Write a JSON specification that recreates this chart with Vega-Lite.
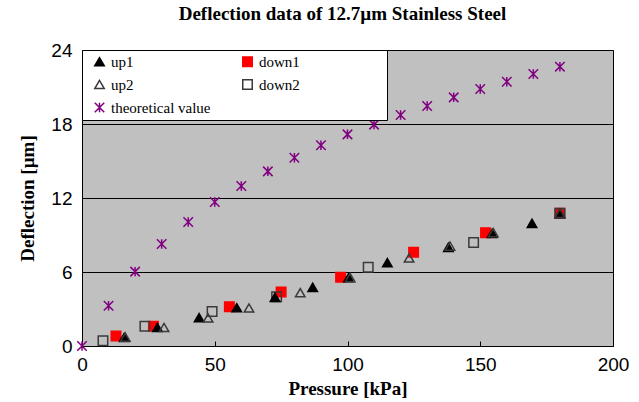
{
  "$schema": "https://vega.github.io/schema/vega-lite/v6.json",
  "autosize": {"type": "none"},
  "width": 531,
  "height": 296,
  "padding": {"left": 82, "top": 50, "right": 26, "bottom": 56},
  "title": {
    "text": "Deflection data of 12.7µm Stainless Steel",
    "font": "Liberation Serif",
    "fontSize": 19,
    "fontWeight": "bold",
    "color": "black",
    "anchor": "middle",
    "offset": 17,
    "dx": -5
  },
  "data": {
    "values": [
      {"series": "down1", "pressure": 12.8, "deflection": 0.81},
      {"series": "down1", "pressure": 26.9, "deflection": 1.6},
      {"series": "down1", "pressure": 55.5, "deflection": 3.19},
      {"series": "down1", "pressure": 75.0, "deflection": 4.38},
      {"series": "down1", "pressure": 97.4, "deflection": 5.57},
      {"series": "down1", "pressure": 124.9, "deflection": 7.6},
      {"series": "down1", "pressure": 152.0, "deflection": 9.19},
      {"series": "down1", "pressure": 180.0, "deflection": 10.76},
      {"series": "down2", "pressure": 7.9, "deflection": 0.43},
      {"series": "down2", "pressure": 23.7, "deflection": 1.6},
      {"series": "down2", "pressure": 49.0, "deflection": 2.8},
      {"series": "down2", "pressure": 73.3, "deflection": 4.0},
      {"series": "down2", "pressure": 107.8, "deflection": 6.38},
      {"series": "down2", "pressure": 147.5, "deflection": 8.4},
      {"series": "down2", "pressure": 180.0, "deflection": 10.76},
      {"series": "up1", "pressure": 15.9, "deflection": 0.7},
      {"series": "up1", "pressure": 28.4, "deflection": 1.5},
      {"series": "up1", "pressure": 44.1, "deflection": 2.3},
      {"series": "up1", "pressure": 58.3, "deflection": 3.1},
      {"series": "up1", "pressure": 72.7, "deflection": 3.95},
      {"series": "up1", "pressure": 86.9, "deflection": 4.76},
      {"series": "up1", "pressure": 100.4, "deflection": 5.54},
      {"series": "up1", "pressure": 115.0, "deflection": 6.76},
      {"series": "up1", "pressure": 138.0, "deflection": 8.0},
      {"series": "up1", "pressure": 154.5, "deflection": 9.14},
      {"series": "up1", "pressure": 169.5, "deflection": 9.95},
      {"series": "up1", "pressure": 180.0, "deflection": 10.76},
      {"series": "up2", "pressure": 16.3, "deflection": 0.72},
      {"series": "up2", "pressure": 30.9, "deflection": 1.5},
      {"series": "up2", "pressure": 47.5, "deflection": 2.27},
      {"series": "up2", "pressure": 62.9, "deflection": 3.08},
      {"series": "up2", "pressure": 82.2, "deflection": 4.32},
      {"series": "up2", "pressure": 101.0, "deflection": 5.55},
      {"series": "up2", "pressure": 123.2, "deflection": 7.14},
      {"series": "up2", "pressure": 138.6, "deflection": 8.1},
      {"series": "up2", "pressure": 154.9, "deflection": 9.2},
      {"series": "up2", "pressure": 180.0, "deflection": 10.76},
      {"series": "theoretical value", "pressure": 0, "deflection": 0},
      {"series": "theoretical value", "pressure": 10, "deflection": 3.27},
      {"series": "theoretical value", "pressure": 20, "deflection": 6.03},
      {"series": "theoretical value", "pressure": 30, "deflection": 8.27},
      {"series": "theoretical value", "pressure": 40, "deflection": 10.05},
      {"series": "theoretical value", "pressure": 50, "deflection": 11.68},
      {"series": "theoretical value", "pressure": 60, "deflection": 12.97},
      {"series": "theoretical value", "pressure": 70, "deflection": 14.16},
      {"series": "theoretical value", "pressure": 80, "deflection": 15.27},
      {"series": "theoretical value", "pressure": 90, "deflection": 16.27},
      {"series": "theoretical value", "pressure": 100, "deflection": 17.16},
      {"series": "theoretical value", "pressure": 110, "deflection": 17.95},
      {"series": "theoretical value", "pressure": 120, "deflection": 18.73},
      {"series": "theoretical value", "pressure": 130, "deflection": 19.46},
      {"series": "theoretical value", "pressure": 140, "deflection": 20.16},
      {"series": "theoretical value", "pressure": 150, "deflection": 20.84},
      {"series": "theoretical value", "pressure": 160, "deflection": 21.43},
      {"series": "theoretical value", "pressure": 170, "deflection": 22.05},
      {"series": "theoretical value", "pressure": 180, "deflection": 22.65}
    ]
  },
  "mark": {"type": "point", "filled": true, "opacity": 1, "strokeWidth": 1.5},
  "encoding": {
    "x": {
      "field": "pressure",
      "type": "quantitative",
      "scale": {"domain": [0, 200], "nice": false, "zero": false},
      "axis": {
        "title": "Pressure [kPa]",
        "values": [0, 50, 100, 150, 200],
        "grid": false,
        "domain": false,
        "ticks": true,
        "tickSize": -5,
        "tickColor": "black",
        "labelPadding": 14,
        "labelFlush": false,
        "labelFont": "Liberation Sans",
        "labelFontSize": 19,
        "labelColor": "black",
        "titleFont": "Liberation Serif",
        "titleFontSize": 19,
        "titleFontWeight": "bold",
        "titleColor": "black",
        "titlePadding": 5
      }
    },
    "y": {
      "field": "deflection",
      "type": "quantitative",
      "scale": {"domain": [0, 24], "nice": false, "zero": false},
      "axis": {
        "title": "Deflection [µm]",
        "values": [0, 6, 12, 18, 24],
        "grid": true,
        "gridColor": "black",
        "gridOpacity": 1,
        "gridWidth": 1,
        "domain": false,
        "ticks": false,
        "labelPadding": 10,
        "labelFlush": false,
        "labelFont": "Liberation Sans",
        "labelFontSize": 19,
        "labelColor": "black",
        "titleFont": "Liberation Serif",
        "titleFontSize": 19,
        "titleFontWeight": "bold",
        "titleColor": "black",
        "titlePadding": 13
      }
    },
    "shape": {
      "field": "series",
      "type": "nominal",
      "scale": {
        "domain": ["up1", "up2", "theoretical value", "down1", "down2"],
        "range": ["triangle-up", "triangle-up", "M-1,-1L1,1M1,-1L-1,1M0,-1L0,1", "square", "square"]
      },
      "legend": {
        "orient": "none",
        "legendX": 0,
        "legendY": 0,
        "columns": 2,
        "title": null,
        "fillColor": "white",
        "strokeColor": "black",
        "padding": 4,
        "rowPadding": 6,
        "columnPadding": 23,
        "symbolOffset": 6,
        "labelOffset": 4,
        "symbolSize": 90,
        "symbolStrokeWidth": 1.5,
        "labelFont": "Liberation Serif",
        "labelFontSize": 15,
        "labelColor": "black",
        "labelExpr": "indexof(datum.label, 'down') == 0 ? datum.label + '\u2003\u2003\u2003\u2003\u2003\u00a0\u00a0\u200b' : datum.label"
      }
    },
    "fill": {
      "field": "series",
      "type": "nominal",
      "scale": {
        "domain": ["up1", "up2", "theoretical value", "down1", "down2"],
        "range": ["#000000", "transparent", "transparent", "#ff0000", "transparent"]
      }
    },
    "stroke": {
      "field": "series",
      "type": "nominal",
      "scale": {
        "domain": ["up1", "up2", "theoretical value", "down1", "down2"],
        "range": ["#000000", "#3a3a3a", "#800080", "#ff0000", "#3a3a3a"]
      }
    },
    "size": {"value": 90}
  },
  "config": {
    "view": {"fill": "#c0c0c0", "stroke": "black", "strokeWidth": 1},
    "background": "white"
  }
}
